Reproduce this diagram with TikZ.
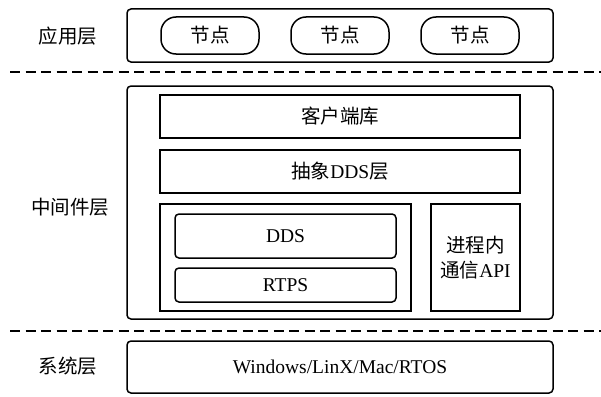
\documentclass[tikz,border=0pt]{standalone}
\usepackage{fontspec}
\setmainfont{Liberation Serif}
\newfontfamily\cjk{Noto Sans CJK SC}
\begin{document}
\begin{tikzpicture}[x=1pt,y=-1pt,
        font=\fontsize{19.5}{25}\selectfont,
        layerbox/.style={draw,line width=1.5pt,rounded corners=4pt,inner sep=0pt,minimum width=426pt},
        plainbox/.style={draw,line width=1.5pt,inner sep=0pt,minimum width=360pt,minimum height=43pt},
        pill/.style={draw,line width=1.5pt,rounded corners=15pt,inner sep=0pt,minimum width=98pt,minimum height=37pt},
        innerbox/.style={draw,line width=1.5pt,rounded corners=4pt,inner sep=0pt,minimum width=221pt},
        layername/.style={font=\fontsize{19.5}{25}\selectfont\cjk},
        sep/.style={line width=1.8pt,dash pattern=on 10pt off 5.5pt}]
        \useasboundingbox (0,0) rectangle (601,396);
        % Anwendungsschicht
        \node[layername] (appname) at (68,36) {应用层};
        \node[layerbox, minimum height=53pt] (app) at (340,35.5) {};
        \node[pill] (nodeA) at (210,35.5) {\cjk 节点};
        \node[pill] (nodeB) at (340,35.5) {\cjk 节点};
        \node[pill] (nodeC) at (470,35.5) {\cjk 节点};
        \draw[sep] (10,72) -- (601,72);
        % Middleware
        \node[layername] (midname) at (70,207) {中间件层};
        \node[layerbox, minimum height=233pt] (mid) at (340,202.5) {};
        \node[plainbox] (client) at (340,116.5) {\cjk 客户端库};
        \node[plainbox] (abstract) at (340,171.5) {{\cjk 抽象}DDS{\cjk 层}};
        \node[draw,line width=2.6pt,inner sep=0pt,minimum width=251pt,minimum height=107pt] (core) at (285.5,257.5) {};
        \node[innerbox, minimum height=44pt] (dds) at (285.5,236) {DDS};
        \node[innerbox, minimum height=34pt] (rtps) at (285.5,285) {RTPS};
        \node[draw,line width=1.5pt,inner sep=0pt,minimum width=89pt,minimum height=107pt,align=center] (api) at (475.5,257.5) {{\cjk 进程内}\\{\cjk 通信}API};
        \draw[sep] (10,331) -- (601,331);
        % System
        \node[layername] (sysname) at (68,366) {系统层};
        \node[layerbox, minimum height=52pt] (sys) at (340,367) {Windows/LinX/Mac/RTOS};
\end{tikzpicture}
\end{document}
